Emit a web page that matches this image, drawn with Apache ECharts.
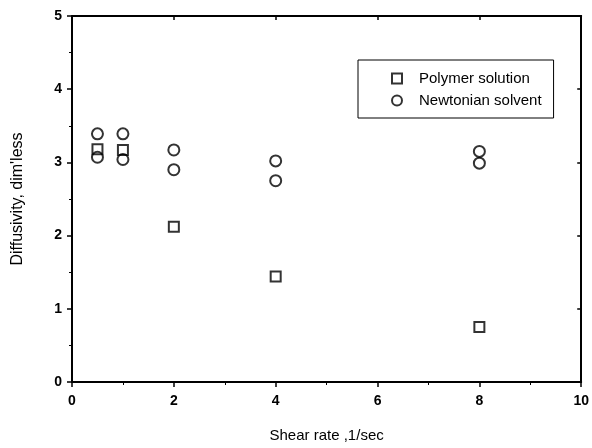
<!DOCTYPE html>
<html>
<head>
<meta charset="utf-8">
<script src="https://cdn.jsdelivr.net/npm/echarts@6/dist/echarts.min.js"></script>
<style>html,body{margin:0;padding:0;background:#fff;}#c{width:592px;height:448px;}</style>
</head>
<body>
<div id="c"></div>
<script>
const shearRate = [0.5, 1, 2, 4, 8];
const polymerSolution = [3.18, 3.17, 2.12, 1.44, 0.75];
const newtonianHigh = [3.39, 3.39, 3.17, 3.02, 3.15];
const newtonianLow = [3.07, 3.04, 2.90, 2.75, 2.99];
const xTicks = [0, 2, 4, 6, 8, 10];
const yTicks = [0, 1, 2, 3, 4, 5];

const polyData = shearRate.map((x, i) => [x, polymerSolution[i]]);
const newtData = shearRate.map((x, i) => [x, newtonianHigh[i]]).concat(shearRate.map((x, i) => [x, newtonianLow[i]]));

const font = 'Liberation Sans, Arial, sans-serif';
const chart = echarts.init(document.getElementById('c'), null, {renderer: 'canvas'});
const axisLine = {show: true, onZero: false, lineStyle: {color: '#000', width: 2}};
chart.setOption({
  animation: false,
  backgroundColor: '#fff',
  grid: {left: 72, right: 9, top: 16, bottom: 63},
  legend: {
    orient: 'vertical',
    left: 358, top: 60,
    padding: [11, 12, 10, 33],
    itemGap: 7,
    itemWidth: 10, itemHeight: 10,
    borderColor: '#000', borderWidth: 1,
    textStyle: {fontFamily: font, fontSize: 15, color: '#000', padding: [0, 0, 0, 12]},
    data: ['Polymer solution', 'Newtonian solvent']
  },
  xAxis: [{
    type: 'value', min: 0, max: 10, interval: 2, position: 'bottom',
    axisLine: axisLine,
    axisTick: {show: true, inside: false, length: 5, lineStyle: {color: '#000', width: 1.5}},
    minorTick: {show: true, splitNumber: 2, length: 3, lineStyle: {color: '#000', width: 1}},
    splitLine: {show: false},
    axisLabel: {fontFamily: font, fontSize: 14, fontWeight: 'bold', color: '#000', margin: 12,
      formatter: v => xTicks.includes(v) ? String(v) : ''},
    name: 'Shear rate ,1/sec', nameLocation: 'middle', nameGap: 46,
    nameTextStyle: {fontFamily: font, fontSize: 15, color: '#000'}
  }, {
    type: 'value', min: 0, max: 10, interval: 2, position: 'top',
    axisLine: axisLine,
    axisTick: {show: true, inside: true, length: 4, lineStyle: {color: '#000', width: 1.5}},
    minorTick: {show: false},
    splitLine: {show: false}, axisLabel: {show: false}
  }],
  yAxis: [{
    type: 'value', min: 0, max: 5, interval: 1, position: 'left',
    axisLine: axisLine,
    axisTick: {show: true, inside: false, length: 5, lineStyle: {color: '#000', width: 1.5}},
    minorTick: {show: true, splitNumber: 2, length: 3, lineStyle: {color: '#000', width: 1}},
    splitLine: {show: false},
    axisLabel: {fontFamily: font, fontSize: 14, fontWeight: 'bold', color: '#000', margin: 10,
      formatter: v => yTicks.includes(v) ? String(v) : ''},
    name: "Diffusivity, dim'less", nameLocation: 'middle', nameGap: 46,
    nameTextStyle: {fontFamily: font, fontSize: 16, color: '#000'}
  }, {
    type: 'value', min: 0, max: 5, interval: 1, position: 'right',
    axisLine: axisLine,
    axisTick: {show: true, inside: true, length: 4, lineStyle: {color: '#000', width: 1.5}},
    minorTick: {show: false},
    splitLine: {show: false}, axisLabel: {show: false}
  }],
  series: [{
    name: 'Polymer solution', type: 'scatter', symbol: 'rect', symbolSize: 10,
    itemStyle: {color: '#fff', borderColor: '#000', borderWidth: 2},
    data: polyData
  }, {
    name: 'Newtonian solvent', type: 'scatter', symbol: 'circle', symbolSize: 11,
    itemStyle: {color: 'rgba(255,255,255,0)', borderColor: '#000', borderWidth: 2},
    data: newtData
  }]
});
</script>
</body>
</html>
